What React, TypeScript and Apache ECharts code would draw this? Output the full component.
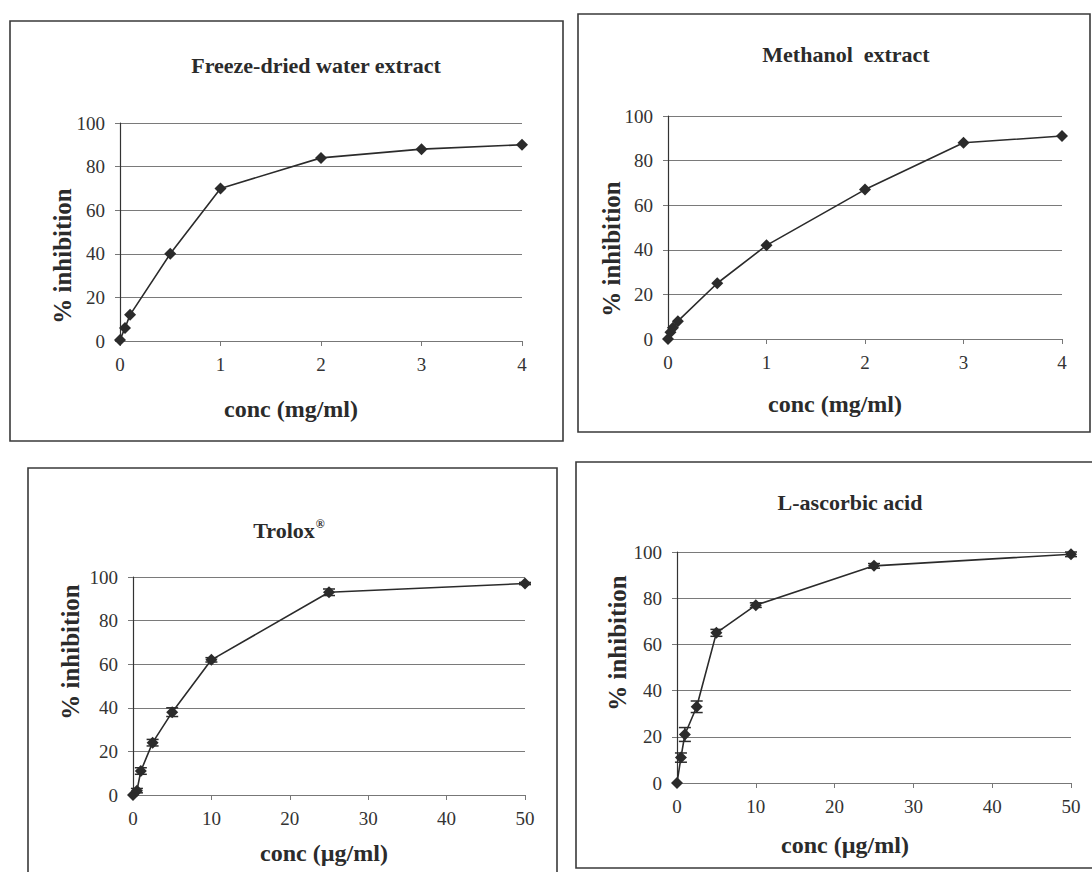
import React, { useEffect, useRef } from "react";
import * as echarts from "echarts";

// ---- data ----
const freezeConc = [0, 0.05, 0.1, 0.5, 1, 2, 3, 4];
const freezeInhib = [0.5, 6, 12, 40, 70, 84, 88, 90];

const methConc = [0, 0.025, 0.05, 0.1, 0.5, 1, 2, 3, 4];
const methInhib = [0, 3, 5, 8, 25, 42, 67, 88, 91];

const troloxConc = [0, 0.5, 1, 2.5, 5, 10, 25, 50];
const troloxInhib = [0, 2, 11, 24, 38, 62, 93, 97];
const troloxErr = [0, 1, 1.5, 1.5, 2, 1, 1.5, 0.5];

const ascConc = [0, 0.5, 1, 2.5, 5, 10, 25, 50];
const ascInhib = [0, 11, 21, 33, 65, 77, 94, 99];
const ascErr = [0, 2, 3, 2.5, 1.5, 1, 1, 1];

const mgTicks = [0, 1, 2, 3, 4];
const ugTicks = [0, 10, 20, 30, 40, 50];
const yTicks = [0, 20, 40, 60, 80, 100];

const titles = ["Freeze-dried water extract", "Methanol  extract", "Trolox", "L-ascorbic acid"];
const xNames = ["conc (mg/ml)", "conc (mg/ml)", "conc (\u00b5g/ml)", "conc (\u00b5g/ml)"];
const yName = "% inhibition";

const FONT = "'Liberation Serif', 'Times New Roman', serif";
const INK = "#2b2b2b";

export default function App() {
  const ref = useRef<HTMLDivElement>(null);
  useEffect(() => {
    if (!ref.current) return;
    const chart = echarts.init(ref.current, null, { renderer: "svg" });

    const grids = [
      { left: 120, top: 123, width: 402, height: 218 },
      { left: 668, top: 116, width: 394, height: 223 },
      { left: 133, top: 577, width: 392, height: 218 },
      { left: 677, top: 552, width: 394, height: 231 },
    ];
    const xMax = [mgTicks[mgTicks.length - 1], mgTicks[mgTicks.length - 1], ugTicks[ugTicks.length - 1], ugTicks[ugTicks.length - 1]];
    const xInt = [mgTicks[1] - mgTicks[0], mgTicks[1] - mgTicks[0], ugTicks[1] - ugTicks[0], ugTicks[1] - ugTicks[0]];

    const titlePos = [[316, 65], [846, 54], [289, 530], [850, 502]];
    const yNamePos = [[62, 256], [611, 249], [70, 652], [617, 643]];
    const xNamePos = [[291, 409], [835, 404], [324, 853], [845, 845]];

    const xAxes = grids.map((_, i) => ({
      type: "value",
      gridIndex: i,
      min: 0,
      max: xMax[i],
      interval: xInt[i],
      axisLine: { show: true, lineStyle: { color: "#777", width: 1.2 } },
      axisTick: { show: true, length: 5, lineStyle: { color: "#777" } },
      axisLabel: { fontFamily: FONT, fontSize: 19, color: "#333", margin: 14 },
      splitLine: { show: false },
    }));
    const yAxes = grids.map((_, i) => ({
      type: "value",
      gridIndex: i,
      min: yTicks[0],
      max: yTicks[yTicks.length - 1],
      interval: yTicks[1] - yTicks[0],
      axisLine: { show: true, lineStyle: { color: "#333", width: 1.2 } },
      axisTick: { show: true, length: 5, lineStyle: { color: "#777" } },
      axisLabel: { fontFamily: FONT, fontSize: 19, color: "#333", margin: 15 },
      splitLine: { show: true, lineStyle: { color: "#7a7a7a", width: 1 } },
    }));

    const lineSeries = (xs: number[], ys: number[], i: number) => ({
      type: "line",
      xAxisIndex: i,
      yAxisIndex: i,
      data: xs.map((x, k) => [x, ys[k]]),
      symbol: "diamond",
      symbolSize: 12,
      itemStyle: { color: INK },
      lineStyle: { color: INK, width: 1.6 },
      z: 3,
    });
    const errSeries = (xs: number[], ys: number[], es: number[], i: number) => ({
      type: "custom",
      xAxisIndex: i,
      yAxisIndex: i,
      data: xs.map((x, k) => [x, ys[k], es[k]]),
      z: 4,
      renderItem: (params: any, api: any) => {
        const x = api.value(0);
        const y = api.value(1);
        const e = api.value(2);
        if (!e) return null;
        const top = api.coord([x, y + e]);
        const bot = api.coord([x, y - e]);
        const w = 6;
        const st = { stroke: INK, lineWidth: 1.5 };
        return {
          type: "group",
          children: [
            { type: "line", shape: { x1: top[0], y1: top[1], x2: bot[0], y2: bot[1] }, style: st },
            { type: "line", shape: { x1: top[0] - w, y1: top[1], x2: top[0] + w, y2: top[1] }, style: st },
            { type: "line", shape: { x1: bot[0] - w, y1: bot[1], x2: bot[0] + w, y2: bot[1] }, style: st },
          ],
        };
      },
    });

    const boldText = (text: string, x: number, y: number, size: number, rot = 0, rich?: any) => ({
      type: "text",
      x,
      y,
      rotation: rot,
      z: 10,
      style: {
        text,
        fill: INK,
        fontFamily: FONT,
        fontWeight: "bold",
        fontSize: size,
        align: "center",
        verticalAlign: "middle",
        rich,
      },
    });

    const borderStyle = { fill: "none", stroke: "#3a3a3a", lineWidth: 1.6 };
    const graphics: any[] = [
      { type: "rect", shape: { x: 10, y: 21, width: 553, height: 420 }, style: borderStyle },
      { type: "rect", shape: { x: 578, y: 14, width: 512, height: 418 }, style: borderStyle },
      { type: "rect", shape: { x: 28, y: 468, width: 529, height: 420 }, style: borderStyle },
      { type: "rect", shape: { x: 576, y: 462, width: 520, height: 406 }, style: borderStyle },
    ];
    titles.forEach((t, i) => {
      if (i === 2) {
        graphics.push(
          boldText("{a|" + t + "}{b|\u00ae}", titlePos[i][0], titlePos[i][1], 22, 0, {
            a: { fontFamily: FONT, fontWeight: "bold", fontSize: 22, fill: INK, color: INK },
            b: { fontFamily: FONT, fontWeight: "bold", fontSize: 12, fill: INK, color: INK, verticalAlign: "top", padding: [0, 0, 12, 1] },
          })
        );
      } else {
        graphics.push(boldText(t, titlePos[i][0], titlePos[i][1], 22));
      }
      graphics.push(boldText(yName, yNamePos[i][0], yNamePos[i][1], 25, Math.PI / 2));
      graphics.push(boldText(xNames[i], xNamePos[i][0], xNamePos[i][1], 24));
    });

    chart.setOption({
      animation: false,
      backgroundColor: "#ffffff",
      grid: grids,
      xAxis: xAxes,
      yAxis: yAxes,
      series: [
        lineSeries(freezeConc, freezeInhib, 0),
        lineSeries(methConc, methInhib, 1),
        lineSeries(troloxConc, troloxInhib, 2),
        errSeries(troloxConc, troloxInhib, troloxErr, 2),
        lineSeries(ascConc, ascInhib, 3),
        errSeries(ascConc, ascInhib, ascErr, 3),
      ],
      graphic: graphics,
    });
    return () => chart.dispose();
  }, []);
  return <div ref={ref} style={{ position: "fixed", left: 0, top: 0, width: 1092, height: 872 }} />;
}
